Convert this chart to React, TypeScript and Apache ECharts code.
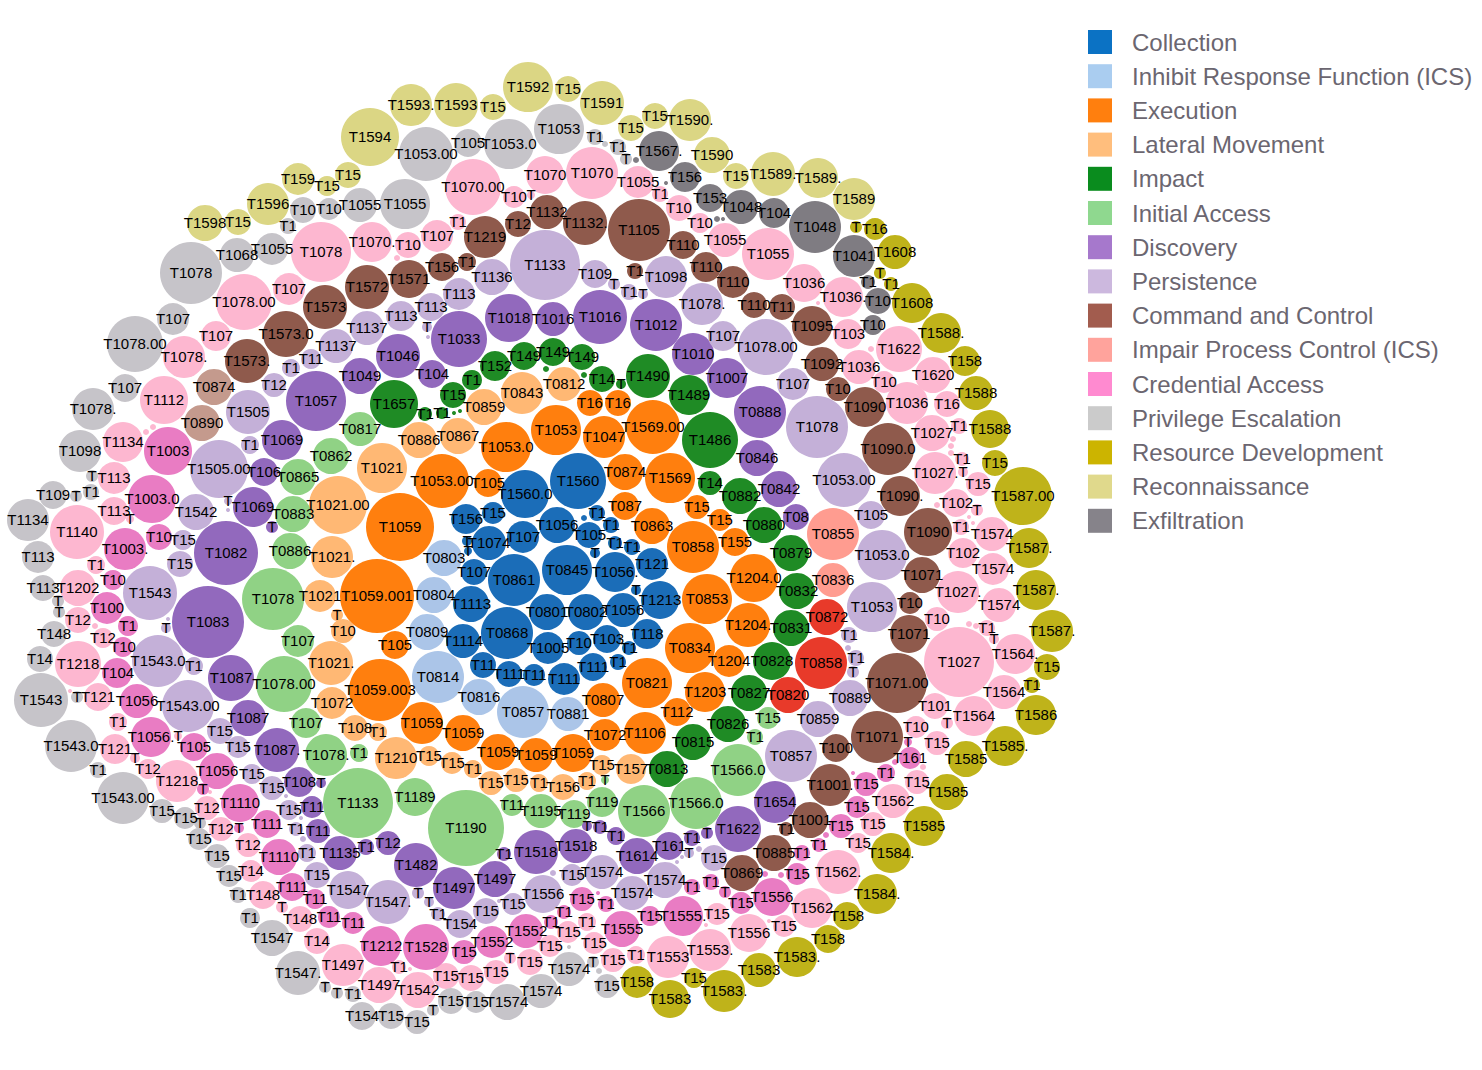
import React, { useEffect, useRef } from "react";
import * as echarts from "echarts";

// Each row: technique label, x, y, bubble radius
type Row = [string, number, number, number];

const collection: Row[] = [["T1560",578,481,28],["T1560.0",525,494,24],["T156",466,519,15],["T15",493,513,11],["T1074",489,543,17],["T107",523,537,16],["T1056",557,525,18],["T105",589,535,13],["T1",597,513,8],["",584,518,3],["T1",611,525,8],["T1",615,543,7],["T1",632,547,8],["T",595,553,5],["T",467,541,5],["T",468,551,4],["T107",474,572,13],["T0861",514,580,26],["T0845",567,570,25],["T1056.",615,572,20],["T121",652,564,16],["T",636,590,5],["T1213",660,600,19],["T1113",471,604,18],["T0801",547,612,18],["T0802",586,612,18],["T1056",623,610,17],["T118",647,634,15],["T0868",507,633,26],["T1114",463,641,17],["T1005",548,648,16],["T10",579,643,12],["T103",607,639,14],["T1",629,648,7],["T1",618,662,8],["T111",593,667,14],["T111",564,679,16],["T11",534,675,11],["T111",509,674,13],["T11",483,665,13]];
const inhibit: Row[] = [["T0803",444,558,18],["T0804",434,595,18],["T0809",427,632,18],["T0814",438,677,26],["T0816",479,697,18],["T0857",523,712,26],["T0881",568,714,17]];
const execution: Row[] = [["T1059",400,527,34],["T1059.001",377,596,37],["T1059.003",380,690,31],["T105",395,645,14],["T1053.00",442,481,27],["T105",488,483,14],["T1053.0",506,447,25],["T1053",556,430,25],["T1047",604,437,21],["T16",590,403,13],["T16",618,403,13],["T1569.00",653,427,27],["T0874",625,472,18],["T1569",670,478,25],["T087",625,506,14],["T0863",652,526,18],["T15",697,507,12],["T0858",693,547,26],["T0853",707,599,25],["T15",720,520,11],["T155",735,542,14],["T1204.0",754,578,24],["T1204.",748,625,22],["T1204",729,661,16],["T1203",705,692,20],["T0834",690,648,25],["T0821",647,683,25],["T0807",603,700,17],["T112",677,712,14],["T1059",422,723,21],["T1059",463,733,18],["T1059",498,752,18],["T1059",536,755,17],["T1059",573,753,19],["T1072",605,735,16],["T1106",645,733,21]];
const lateral: Row[] = [["T0843",522,393,21],["T0812",564,384,17],["T0859",484,407,18],["T0886",419,440,18],["T0867",458,436,18],["T1021",382,468,25],["T1021.00",338,505,29],["T1021.",332,557,21],["T1021",320,596,16],["T",337,615,6],["T10",343,631,12],["T1021.",331,663,22],["T1072",332,703,16],["T108",355,728,13],["T1",378,732,9],["T1210",396,758,21],["T15",429,756,10],["T15",452,763,11],["T1",473,769,9],["T15",491,783,12],["T15",516,780,12],["T1",539,783,9],["T156",563,787,13],["T1",587,781,9],["T15",602,765,10],["T157",631,769,15]];
const impact: Row[] = [["T1657",394,404,24],["T15",453,395,13],["T1",425,414,7],["T1",442,413,6],["",454,413,2],["",460,411,2],["T1",472,380,10],["T152",495,366,15],["T149",524,356,14],["T149",553,352,14],["T149",582,357,13],["",546,369,3],["",584,375,3],["T14",602,379,13],["T",621,384,5],["T1490",648,376,22],["T1489",689,395,20],["T1486",710,440,28],["T14",710,483,12],["T0882",740,496,18],["T0880",764,525,18],["T0879",791,553,18],["T0832",797,591,18],["T0831",791,628,18],["T0828",772,661,19],["T0827",749,693,18],["T0826",728,724,18],["T0815",693,742,18],["T0813",667,769,18]];
const initialAccess: Row[] = [["T0817",360,429,17],["T0862",331,456,18],["T0865",298,477,18],["T0883",293,514,18],["T0886",290,551,18],["T1078",273,599,31],["T107",298,641,16],["T1078.00",284,684,28],["T107",306,723,15],["T1078.",326,755,21],["T1",359,753,9],["T1133",358,803,35],["T1189",415,797,19],["T1190",466,828,38],["T11",512,805,11],["T1195",541,811,17],["T119",574,814,14],["T119",602,802,15],["T",605,780,4],["T1566",644,811,26],["T1566.0",696,803,26],["T1566.0",738,770,26],["T1",755,737,8],["T15",768,718,11]];
const discovery: Row[] = [["T1057",316,401,30],["T1046",398,356,22],["T1049",360,376,18],["T104",432,374,14],["T1033",459,339,28],["T1018",509,318,24],["T1016",553,319,17],["T1016",600,317,27],["T1012",656,325,26],["T1010",693,354,21],["T1007",727,378,20],["T0888",760,412,26],["T0846",757,458,18],["T0842",779,489,18],["T08",796,517,13],["T1069",282,440,20],["T106",264,472,14],["T1069",253,507,20],["T",272,527,6],["T1082",226,553,32],["T1083",208,622,36],["T1087",231,678,23],["T1087",248,718,18],["T1087.",277,750,22],["T108",299,782,15],["T",321,783,5],["T11",312,807,11],["T11",318,831,12],["T1135",340,853,17],["T1",366,847,8],["T12",388,843,12],["T1482",416,865,22],["T1497",454,888,21],["T1497",495,879,18],["T1",504,854,7],["T1518",536,852,22],["T1518",576,846,17],["T",587,826,5],["T1",600,827,7],["T1",616,836,9],["T1614",637,856,18],["T161",669,846,14],["T1",692,838,8],["T",707,833,6],["T1622",738,829,23],["T1654",775,802,21]];
const persistence: Row[] = [["T12",274,385,12],["T1",291,368,9],["T11",311,359,10],["T1137",336,346,17],["T1137",367,328,17],["T113",401,316,15],["T113",431,307,14],["T113",459,294,16],["T",427,327,5],["",428,337,2],["T1136",492,277,18],["T1133",545,265,35],["T109",595,274,14],["T",614,284,6],["T1",629,292,8],["T",643,294,5],["T1098",666,277,21],["T1078.",702,304,21],["T107",723,336,15],["T1078.00",766,347,28],["T107",793,384,16],["T1078",817,427,31],["T1053.00",844,480,27],["T105",871,515,14],["T1053.0",882,555,25],["T1053",872,607,25],["T1",849,635,8],["",848,648,3],["T1",856,658,8],["T",853,672,6],["T0889",850,698,18],["T0859",818,719,18],["T0857",791,756,26],["T1505",248,412,22],["T1",250,445,9],["T1505.00",219,469,29],["T",228,501,4],["",228,510,2],["T1542",196,512,18],["T15",183,540,10],["T15",180,564,13],["T1543",150,593,27],["T",166,628,5],["",168,619,2],["T1543.0",158,661,26],["T1",194,666,9],["T1543.00",188,706,26],["T15",220,731,13],["T15",238,747,11],["T15",252,774,10],["T15",272,788,12],["",286,796,2],["T15",289,810,10],["",301,818,2],["T1",296,829,7],["",303,839,3],["T1",307,853,9],["T15",317,875,13],["T1547",348,890,19],["T1547.",388,902,22],["T15",486,911,13],["T154",460,924,14],["T1",438,914,7],["T",429,902,5],["T",418,893,6],["T15",513,904,11],["T1556",543,894,19],["",499,901,2],["T15",572,875,11],["",553,873,3],["T1574",602,872,17],["T1574",632,893,17],["T1574",665,880,18],["T15",714,858,13],["T",689,853,5],["",699,849,3],["",682,857,2],["",677,862,2]];
const commandControl: Row[] = [["T1573",325,307,22],["T1573.0",286,334,23],["T1573.",247,361,22],["T1572",367,287,22],["T1571",409,279,19],["T156",442,267,14],["T1",467,262,9],["T1219",485,237,21],["T12",518,224,13],["T1132",547,212,17],["T1132.",585,223,22],["T1105",639,230,31],["T1",635,271,8],["T110",683,245,14],["T110",706,267,15],["T110",733,282,16],["T110",754,305,13],["T11",782,307,13],["T1095",812,326,20],["T1092",822,364,17],["T10",838,389,12],["T1090",865,407,20],["T1090.0",888,449,26],["T1090.",900,496,20],["T1090",928,532,24],["T1071",922,575,18],["T10",910,603,11],["T1071",909,634,19],["T1071.00",897,683,30],["T1071",877,737,26],["T100",836,748,14],["T1001.",830,785,21],["T1001",810,820,18],["T1",786,829,7],["T0885",774,853,18],["T0869",742,873,18]];
const impairProcess: Row[] = [["T0855",833,534,26],["T0836",833,580,17]];
const credentialAccess: Row[] = [["T1003",168,451,24],["T1003.0",152,499,24],["T1003.",125,549,21],["T10",159,537,13],["T10",113,580,10],["T100",107,608,16],["T1",128,626,10],["T10",123,647,10],["T104",117,673,15],["T1056",137,701,17],["T1056.",151,737,20],["T105",194,747,14],["T1056",217,771,18],["T",203,789,6],["T1110",240,803,19],["T",239,828,5],["T111",267,824,14],["T1110",279,857,18],["T111",292,887,14],["T11",315,899,10],["T11",329,917,11],["T11",353,923,11],["T1212",381,946,20],["T1528",426,947,23],["T15",464,952,12],["T1552",492,942,16],["T1552",526,931,17],["T1",551,922,7],["T1",564,912,7],["T15",582,899,12],["",598,893,2],["T1",606,904,8],["T1555",622,929,18],["T15",650,916,10],["T1555.",683,916,20],["T1",692,887,8],["T",725,892,6],["T1",711,882,8],["T15",741,903,11],["T1556",772,897,19],["T15",797,874,11],["",765,874,3],["",781,875,3],["T1",802,853,8],["T1",819,845,7],["",826,835,3],["T15",841,826,12],["T15",857,807,11],["T15",866,784,12],["T1",886,773,9],["",853,773,2],["",895,762,3],["T161",910,758,11],["T",908,742,4]];
const privilegeEscalation: Row[] = [["T10",303,210,13],["T10",329,209,11],["T1",288,226,8],["T1068",237,255,17],["T1055",272,249,16],["T1078",191,273,31],["T107",173,319,16],["T1078.00",135,344,28],["T107",125,388,14],["T1078.",93,409,21],["T1098",80,451,21],["T",92,476,6],["T109",53,495,14],["T",76,496,6],["T1",91,492,8],["T1134",28,520,21],["T113",38,557,16],["T113",43,588,13],["T",58,601,6],["T",59,612,6],["T148",54,634,13],["T14",40,659,13],["T1543",41,700,27],["T",77,697,6],["T1543.0",71,746,26],["T1",98,770,8],["T1543.00",123,798,26],["T15",162,811,12],["T15",185,818,11],["T",200,823,6],["T15",199,839,11],["T15",217,856,12],["T15",229,876,11],["T1",238,895,8],["T1",250,918,10],["T1547",272,938,18],["T1547.",298,973,22],["T",325,987,6],["T",337,993,6],["T1",353,994,8],["T154",362,1016,14],["T15",391,1016,13],["T15",417,1022,12],["T",433,1010,6],["T15",451,1001,13],["T15",476,1002,11],["T1574",507,1002,18],["T1574",541,991,17],["T1574",569,969,17],["T",593,962,6],["T15",607,986,12],["",599,971,3],["",569,947,2],["T1055",360,205,17],["T1055",405,204,25],["T1053.00",426,154,27],["T105",468,143,14],["T1053.0",509,144,25],["T1053",559,129,25],["T1",595,137,8],["T1",618,147,8],["T",626,159,6],["",605,144,3]];
const resourceDevelopment: Row[] = [["T",856,227,6],["T16",875,229,11],["T1608",895,252,17],["T",880,273,6],["T1",891,284,7],["T1608",912,303,20],["T1588.",941,333,20],["T158",965,361,15],["T1588",976,393,17],["T1588",990,429,19],["T15",995,463,13],["T1587.00",1023,496,29],["T1587.",1029,548,20],["T1587.",1036,590,20],["T1587.",1052,631,21],["T15",1047,667,13],["T1",1032,685,8],["T1586",1036,715,20],["T1585.",1005,746,20],["T1585",966,759,18],["T1585",947,792,18],["T1585",924,826,20],["T1584.",891,853,20],["T1584.",877,894,20],["T158",847,916,14],["T158",828,939,14],["T1583.",797,957,20],["T1583",759,970,17],["T1583.",724,991,21],["T158",637,982,16],["T1583",670,999,19],["T15",694,978,10]];
const reconnaissance: Row[] = [["T1598",205,223,18],["T15",238,222,13],["T1596",268,204,21],["T159",298,179,16],["T15",327,186,10],["T15",348,175,13],["T1594",370,137,29],["T1593.",411,105,21],["T1593",456,105,22],["T15",493,107,13],["T1592",528,87,25],["T15",568,89,13],["T1591",602,103,22],["T15",631,128,13],["T15",655,116,13],["T1590.",690,120,21],["T1590",712,155,18],["T15",736,176,13],["T1589.",773,174,22],["T1589.",818,178,20],["T1589",854,199,21]];
const exfiltration: Row[] = [["T1567.",659,151,20],["",636,160,3],["T156",685,177,15],["",666,183,2],["T153",710,198,14],["T1048",741,207,17],["T104",774,213,15],["T1048",815,227,26],["T1041",854,256,21],["T1",868,282,7],["T10",878,301,13],["T10",873,325,10],["",717,219,3],["",723,219,2]];
const defenseEvasion: Row[] = [["T1078",321,252,30],["T107",289,289,16],["T1078.00",244,302,28],["T107",216,336,15],["T1078.",184,357,21],["T1112",164,400,24],["T1134",123,442,20],["T113",114,478,16],["T113",114,511,14],["T",130,519,4],["T1140",77,532,27],["T1",96,565,9],["T1202",78,588,18],["T12",78,620,13],["T12",103,638,10],["T1218",78,664,23],["T121",98,697,14],["T1",118,722,9],["",153,427,3],["",146,432,3],["",95,626,3],["",70,691,2],["T",178,736,4],["T121",115,749,15],["T",135,758,5],["T12",148,769,10],["T1218",177,781,21],["T12",207,808,12],["T12",221,829,12],["T12",248,845,12],["T14",251,871,11],["T148",263,895,14],["T",282,907,6],["T148",300,919,13],["T14",317,941,13],["T1497",343,965,21],["",210,792,2],["T1497",379,985,18],["T1542",418,990,18],["T1",399,967,7],["",410,969,2],["T15",446,976,13],["T15",471,978,13],["T15",496,972,12],["T",510,958,6],["T15",530,962,13],["T15",550,946,11],["T15",568,932,11],["T1",587,922,9],["T15",594,943,11],["T15",613,960,12],["T1",636,955,9],["T1553",668,957,21],["T1553.",710,950,21],["T1556",749,933,19],["T15",784,926,11],["T1562",812,908,20],["T15",717,914,11],["",769,921,2],["",706,925,2],["T1562.",838,872,22],["T15",858,843,10],["T15",873,824,12],["T1562",893,801,17],["T15",917,782,12],["T15",937,743,12],["T10",916,727,11],["",923,767,3],["T101",935,706,13],["T",947,723,6],["T1564",974,716,20],["T1564",1004,692,17],["T1564.",1015,654,20],["T1027",959,662,35],["T10",937,619,12],["T1",987,628,8],["T",994,639,5],["",969,624,3],["",976,626,3],["T1574",999,605,17],["T1027.",958,592,21],["T1574",993,569,16],["T102",963,553,15],["T1574",992,534,17],["T1",961,527,8],["",973,523,2],["",969,517,2],["T",977,510,6],["T102",956,503,14],["",937,505,3],["T15",978,484,12],["T",963,472,5],["T1027.",935,473,21],["T1",962,459,7],["",953,439,3],["",951,446,3],["",951,453,3],["T1027",932,433,18],["T1",959,426,8],["T16",947,404,13],["T1036",907,403,21],["T1620",933,375,18],["T10",884,382,11],["T1036",859,367,17],["T1622",899,349,23],["",871,349,3],["T103",848,334,15],["T1036.",843,297,20],["T1036",804,283,19],["",818,303,2],["T1055",768,254,26],["T1055",725,240,17],["T10",700,223,10],["T1070.00",473,187,28],["T10",514,197,11],["T",531,195,4],["T1070",545,175,19],["T1070",592,173,26],["T1055",638,182,16],["T1",660,194,8],["T10",679,208,13],["T1070.",372,242,20],["T10",408,245,13],["T107",437,236,16],["T1",458,222,8],["",397,258,3]];
const impactIcs: Row[] = [["T0872",827,617,18],["T0858",821,663,26],["T0820",788,695,18]];
const evasionIcs: Row[] = [["T0874",214,387,18],["T0890",202,423,18]];

const legendNames = ["Collection","Inhibit Response Function (ICS)","Execution","Lateral Movement","Impact","Initial Access","Discovery","Persistence","Command and Control","Impair Process Control (ICS)","Credential Access","Privilege Escalation","Resource Development","Reconnaissance","Exfiltration"];
const legendColors = ["#0b72c4","#aacdf0","#ff7f0e","#ffbe7d","#0a8c1e","#8fd88f","#a678cc","#ccb8de","#a25c4e","#ffa39c","#ff8ad0","#cbcbcb","#ccb400","#e0d98c","#86838a"];

const groups: [string, Row[], string][] = [
  ["Defense Evasion", defenseEvasion, "#fdb7d0"],
  ["Collection", collection, "#1b6db8"],
  ["Inhibit Response Function (ICS)", inhibit, "#abc5e8"],
  ["Execution", execution, "#ff7f0e"],
  ["Lateral Movement", lateral, "#ffb874"],
  ["Impact", impact, "#1f8b25"],
  ["Initial Access", initialAccess, "#90d285"],
  ["Discovery", discovery, "#9269bd"],
  ["Persistence", persistence, "#c4b0d8"],
  ["Command and Control", commandControl, "#8f5a4c"],
  ["Impair Process Control (ICS)", impairProcess, "#ff9c90"],
  ["Credential Access", credentialAccess, "#e97cc3"],
  ["Privilege Escalation", privilegeEscalation, "#c6c4c9"],
  ["Resource Development", resourceDevelopment, "#bfb31a"],
  ["Reconnaissance", reconnaissance, "#dbd684"],
  ["Exfiltration", exfiltration, "#7f7c82"],
  ["Impact (ICS)", impactIcs, "#e83a2a"],
  ["Evasion (ICS)", evasionIcs, "#c49a8d"],
];

export default function App() {
  const ref = useRef<HTMLDivElement>(null);
  useEffect(() => {
    const chart = echarts.init(ref.current!, undefined, { renderer: "svg" });
    chart.setOption({
      animation: false,
      backgroundColor: "#ffffff",
      grid: { left: 0, right: 0, top: 0, bottom: 0 },
      xAxis: { type: "value", min: 0, max: 1482, show: false },
      yAxis: { type: "value", min: 0, max: 1070, inverse: true, show: false },
      legend: {
        orient: "vertical",
        left: 1083,
        top: 25,
        itemWidth: 24,
        itemHeight: 24,
        itemGap: 10.2,
        icon: "rect",
        textStyle: { fontFamily: "Liberation Sans", fontSize: 24, color: "#6b6670", padding: [0, 0, 0, 15] },
        data: legendNames.map((name, i) => ({ name, itemStyle: { color: legendColors[i] } })),
      },
      series: groups.map(([name, rows, color]) => ({
        type: "scatter",
        name,
        symbol: "circle",
        clip: false,
        silent: true,
        symbolSize: (v: number[]) => v[2] * 2,
        itemStyle: { color, opacity: 1 },
        label: {
          show: true,
          position: "inside",
          formatter: "{b}",
          offset: [0, -1],
          fontFamily: "Liberation Sans",
          fontSize: 15,
          color: "#000000",
          overflow: "none",
        },
        data: rows.map(([label, x, y, r]) => ({ name: label, value: [x, y, r] })),
      })),
    });
    return () => chart.dispose();
  }, []);
  return <div ref={ref} style={{ position: "absolute", left: 0, top: 0, width: 1482, height: 1070 }} />;
}
